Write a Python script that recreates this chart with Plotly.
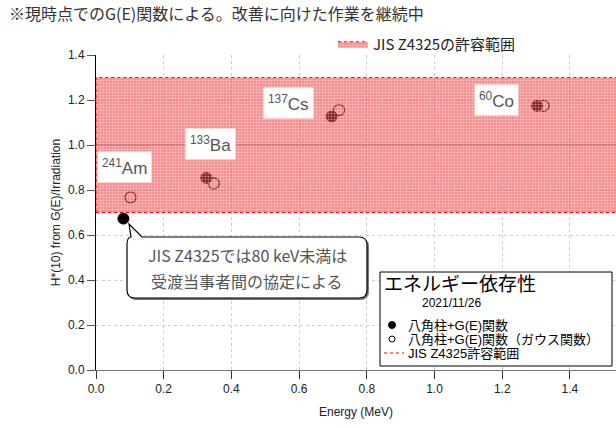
import plotly.graph_objects as go

# ---------------- data ----------------
energy_filled = [0.081, 0.326, 0.696, 1.303]
ratio_filled = [0.673, 0.854, 1.127, 1.174]
energy_open = [0.102, 0.348, 0.718, 1.322]
ratio_open = [0.767, 0.829, 1.155, 1.174]
nuclide_labels = ["<sup>241</sup>Am", "<sup>133</sup>Ba", "<sup>137</sup>Cs", "<sup>60</sup>Co"]
label_x = [0.085, 0.339, 0.569, 1.184]
label_y = [0.901, 1.003, 1.186, 1.199]
jis_low = 0.7
jis_high = 1.3
x_range = [0, 1.536]
y_range = [0, 1.4]

W, H = 616, 428
ML, MR, MT, MB = 96, 0, 55, 58
PW, PH = W - ML - MR, H - MT - MB


def px(x):
    return (x - ML) / PW


def py(y):
    return (H - MB - y) / PH


CJK = "Noto Sans CJK JP"
MIX = "Liberation Sans, Noto Sans CJK JP"

fig = go.Figure()

fig.add_trace(go.Scatter(
    x=energy_filled, y=ratio_filled, mode="markers",
    marker=dict(symbol="circle", size=11, color="black", line=dict(color="black", width=1)),
    showlegend=False, name="八角柱+G(E)関数"))
fig.add_trace(go.Scatter(
    x=energy_open, y=ratio_open, mode="markers",
    marker=dict(symbol="circle-open", size=11, color="black", line=dict(color="black", width=1.3)),
    showlegend=False, name="八角柱+G(E)関数（ガウス関数）"))

# JIS band drawn on top (semi-transparent pattern)
band_x = [x_range[0], 1.6, 1.6, x_range[0], x_range[0]]
band_y = [jis_low, jis_low, jis_high, jis_high, jis_low]
fig.add_trace(go.Scatter(
    x=band_x, y=band_y, mode="lines", fill="toself",
    line=dict(color="red", width=1, dash="dot"),
    fillcolor="rgba(235,45,45,0.55)",
    fillpattern=dict(shape=".", size=3, solidity=0.4, fgcolor="white", fgopacity=0.5,
                     bgcolor="rgba(235,45,45,0.55)"),
    name="JIS Z4325の許容範囲", showlegend=True, hoverinfo="skip"))

shapes = []
shapes.append(dict(type="line", xref="paper", yref="y", x0=0, x1=1, y0=1.0, y1=1.0,
                   line=dict(color="#777777", width=1), layer="between"))


def bubble(dx=0.0, dy=0.0):
    L, R, T, B, r = 127 + dx, 367 + dx, 237 + dy, 298 + dy, 8
    return (f"M{px(142+dx)},{py(T)} L{px(R-r)},{py(T)} Q{px(R)},{py(T)} {px(R)},{py(T+r)} "
            f"L{px(R)},{py(B-r)} Q{px(R)},{py(B)} {px(R-r)},{py(B)} "
            f"L{px(L+r)},{py(B)} Q{px(L)},{py(B)} {px(L)},{py(B-r)} "
            f"L{px(L)},{py(T+r)} Q{px(L)},{py(T)} {px(L+4)},{py(T)} "
            f"L{px(129+dx)},{py(224+dy)} Z")


shapes.append(dict(type="path", xref="paper", yref="paper", path=bubble(1.5, 1.5),
                   fillcolor="#777777", line=dict(color="#777777", width=1), layer="above"))
shapes.append(dict(type="path", xref="paper", yref="paper", path=bubble(),
                   fillcolor="white", line=dict(color="black", width=1.2), layer="above"))

shapes.append(dict(type="rect", xref="paper", yref="paper",
                   x0=px(380), x1=px(612), y0=py(366), y1=py(272),
                   fillcolor="white", line=dict(color="black", width=1), layer="above"))
rx, ry = 3.5 / PW, 3.5 / PH
shapes.append(dict(type="circle", xref="paper", yref="paper",
                   x0=px(392) - rx, x1=px(392) + rx, y0=py(325) - ry, y1=py(325) + ry,
                   fillcolor="black", line=dict(color="black", width=1), layer="above"))
rx2, ry2 = 3.0 / PW, 3.0 / PH
shapes.append(dict(type="circle", xref="paper", yref="paper",
                   x0=px(392) - rx2, x1=px(392) + rx2, y0=py(339) - ry2, y1=py(339) + ry2,
                   fillcolor="white", line=dict(color="black", width=1), layer="above"))
shapes.append(dict(type="line", xref="paper", yref="paper",
                   x0=px(384), x1=px(404), y0=py(353), y1=py(353),
                   line=dict(color="red", width=1, dash="dot"), layer="above"))

annotations = []


def ann(x, y, text, font, xanchor="left", **kw):
    d = dict(xref="paper", yref="paper", x=x, y=y, xanchor=xanchor, yanchor="middle",
             showarrow=False, text=text, font=font)
    d.update(kw)
    annotations.append(d)


ann(px(7), py(13), "※現時点でのG(E)関数による。改善に向けた作業を継続中",
    dict(family=CJK, size=16, color="#333333"))
for t, lx, ly in zip(nuclide_labels, label_x, label_y):
    annotations.append(dict(xref="x", yref="y", x=lx, y=ly, xanchor="center", yanchor="middle",
                            showarrow=False, text=t, bgcolor="white", borderpad=4,
                            font=dict(family="Liberation Sans", size=17, color="#555555")))
ann(px(247), py(255), "JIS Z4325では80 keV未満は", dict(family=CJK, size=16, color="#555555"),
    xanchor="center")
ann(px(247), py(281), "受渡当事者間の協定による", dict(family=CJK, size=16, color="#555555"),
    xanchor="center")
ann(px(382), py(282), "エネルギー依存性", dict(family=CJK, size=19, color="black"))
ann(px(420), py(303), "2021/11/26", dict(family="Liberation Sans", size=12, color="black"))
for txt, yy in [("八角柱+G(E)関数", 325), ("八角柱+G(E)関数（ガウス関数）", 339),
                ("JIS Z4325許容範囲", 353)]:
    ann(px(406), py(yy), txt, dict(family=MIX, size=13, color="black"))

fig.update_layout(
    width=W, height=H,
    margin=dict(l=ML, r=MR, t=MT, b=MB, autoexpand=False),
    paper_bgcolor="white", plot_bgcolor="white",
    font=dict(family="Liberation Sans", size=12, color="#222222"),
    shapes=shapes, annotations=annotations,
    legend=dict(x=px(333), y=py(44), xanchor="left", yanchor="middle",
                bgcolor="rgba(0,0,0,0)", font=dict(family=CJK, size=15, color="#222222"),
                itemwidth=30),
    xaxis=dict(range=x_range, dtick=0.2, tickformat=".1f", showline=True, linecolor="#777777",
               ticks="outside", ticklen=8, tickcolor="#333333", showgrid=True,
               gridcolor="#c8c8f2", griddash="dot", zeroline=False,
               title=dict(text="Energy (MeV)", standoff=12, font=dict(size=12))),
    yaxis=dict(range=y_range, dtick=0.2, tickformat=".1f", showline=True, linecolor="black",
               ticks="outside", ticklen=8, tickcolor="#555555", showgrid=True,
               gridcolor="#c8c8f2", griddash="dot", zeroline=False,
               title=dict(text="H*(10) from G(E)/Irradiation", standoff=4, font=dict(size=12))),
)

fig.write_html("out.html", config={"displayModeBar": False},
               post_script="document.body.style.margin='0px';")
